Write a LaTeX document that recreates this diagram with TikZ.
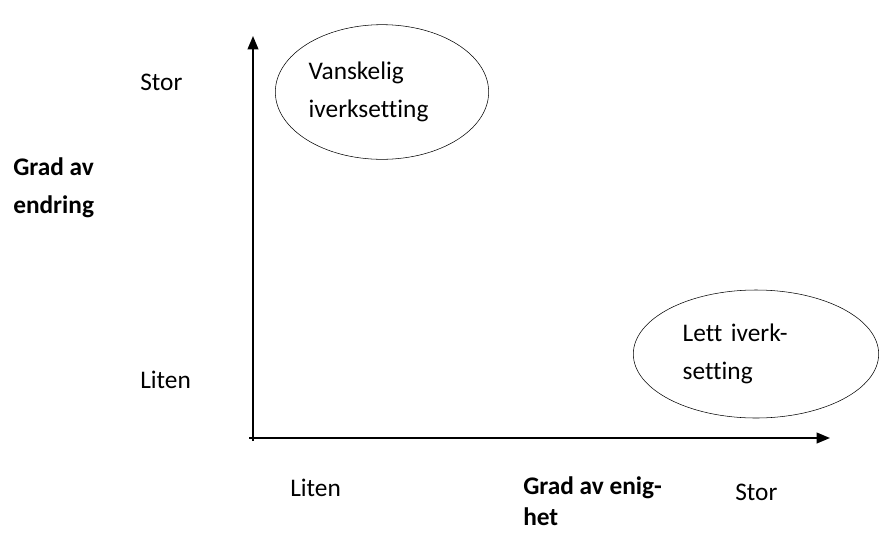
\documentclass[tikz,border=0pt]{standalone}
\usepackage{fontspec}
\setmainfont{Carlito}[Ligatures=NoCommon]
\usetikzlibrary{shapes.geometric, arrows.meta, positioning}
\newcommand{\diagfont}{\fontsize{19}{28}\selectfont}
\tikzset{
    axis/.style={line width=1.4pt, -{Triangle[length=10pt, width=8pt]}},
    zone/.style={ellipse, draw, thin, inner sep=0pt, align=left, text width=110pt, font=\diagfont},
    level/.style={anchor=base west, inner sep=0pt, font=\diagfont},
    axistitle/.style={anchor=base west, inner sep=0pt, align=left, font=\diagfont\bfseries},
}

\begin{document}
\begin{tikzpicture}[x=0.75pt, y=-0.75pt]
\useasboundingbox (0,0) rectangle (879,533);

% Axes
\coordinate (ybot) at (253,441);
\coordinate (ytop) at (253,36);
\coordinate (xbeg) at (249,438);
\coordinate (xend) at (830,438);
\draw[axis] (ybot) -- (ytop);
\draw[axis] (xbeg) -- (xend);

% Zones
\node[zone, minimum width=160pt, minimum height=101pt] (hard) at (382,92) {Vanskelig\\iverksetting};
\node[zone, minimum width=184pt, minimum height=96pt] (easy) at (756,354) {Lett iverk-\\setting};

% Vertical scale
\node[level] (ybig) at (140,90) {Stor};
\node[level] (ysmall) at (140,388) {Liten};
\node[axistitle] (ytitle) at (13,213) {Grad av\\endring};

% Horizontal scale
\node[level] (xsmall) at (290,496) {Liten};
\node[axistitle] (xtitle) at (523,525) {Grad av enig-\\[-5pt]het};
\node[level] (xbig) at (735,500) {Stor};

\end{tikzpicture}
\end{document}
